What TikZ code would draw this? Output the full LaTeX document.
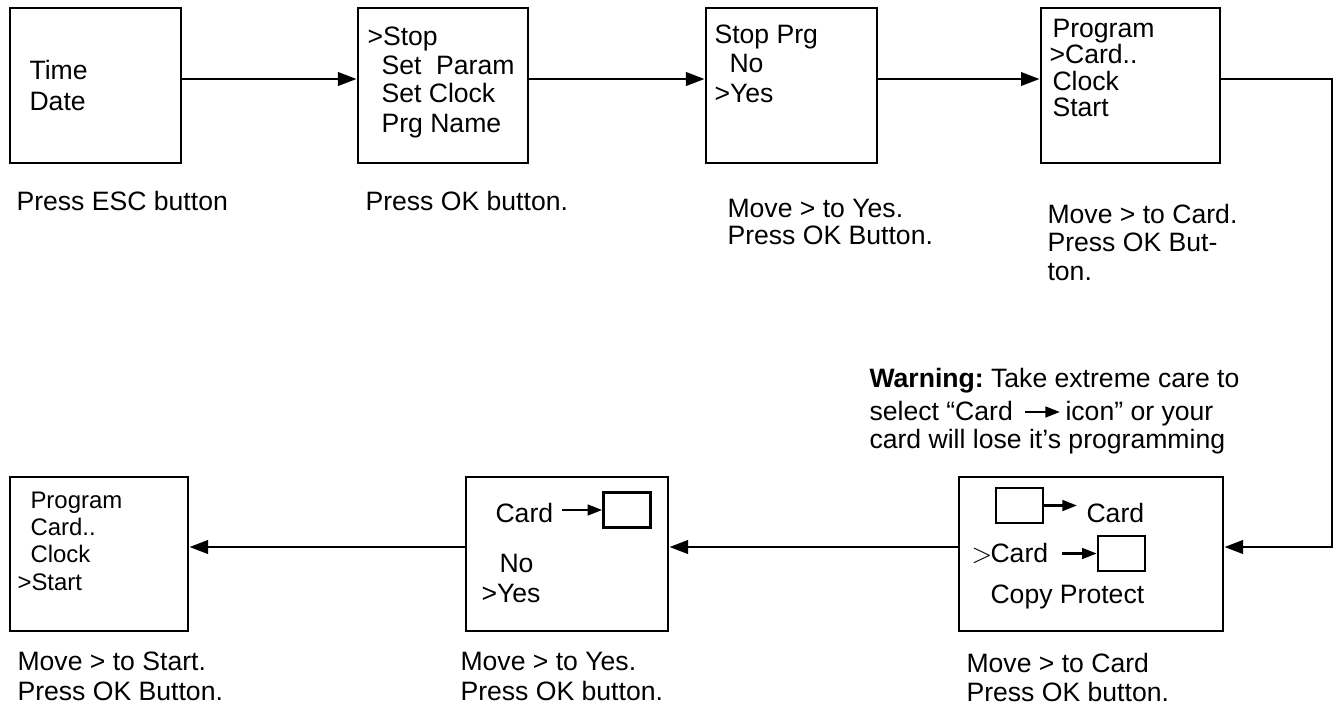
\documentclass[tikz,border=0pt]{standalone}
\usepackage{fontspec}
\setmainfont{Liberation Sans}
\usetikzlibrary{arrows.meta}
\newcommand\pxu{0.3761pt}
\frenchspacing
\begin{document}
\begin{tikzpicture}[x=0.3761pt,y=-0.3761pt,
  scr/.style={draw, line width=1.05pt, inner sep=0pt},
  mini/.style={draw, line width=0.95pt, inner sep=0pt, minimum width=47*\pxu, minimum height=35*\pxu},
  txt/.style={anchor=base west, inner sep=0pt, font=\fontsize{10}{12}\selectfont},
  stxt/.style={txt, font=\fontsize{9}{11}\selectfont},
  flow/.style={line width=1.05pt, -{Triangle[length=7pt,width=5pt]}},
  small/.style={line width=0.95pt, -{Triangle[length=5.5pt,width=4pt]}}]
\path[use as bounding box] (0,0) rectangle (1340,709);

% screens
\node[scr, minimum width=171*\pxu, minimum height=155*\pxu] (b1) at (95.5,85.5) {};
\node[scr, minimum width=170*\pxu, minimum height=155*\pxu] (b2) at (443,85.5) {};
\node[scr, minimum width=171*\pxu, minimum height=155*\pxu] (b3) at (791.5,85.5) {};
\node[scr, minimum width=179*\pxu, minimum height=155*\pxu] (b4) at (1130.5,85.5) {};
\node[scr, minimum width=264*\pxu, minimum height=154*\pxu] (b5) at (1091,554) {};
\node[scr, minimum width=202*\pxu, minimum height=154*\pxu] (b6) at (567,554) {};
\node[scr, minimum width=178*\pxu, minimum height=154*\pxu] (b7) at (99,554) {};

% screen texts
\node[txt] (t1a) at (29,79) {Time};
\node[txt] (t1b) at (29,110) {Date};

\node[txt] (t2a) at (367,45) {>Stop};
\node[txt] (t2b) at (381,74) {Set\ \ Param};
\node[txt] (t2c) at (381,102) {Set Clock};
\node[txt] (t2d) at (381,132) {Prg Name};

\node[txt] (t3a) at (714,43) {Stop Prg};
\node[txt] (t3b) at (729,72) {No};
\node[txt] (t3c) at (714,102) {>Yes};

\node[txt] (t4a) at (1052,37) {Program};
\node[txt] (t4b) at (1049,63) {>Card..};
\node[txt] (t4c) at (1052,90) {Clock};
\node[txt] (t4d) at (1052,116) {Start};

\node[stxt] (t7a) at (30,508) {Program};
\node[stxt] (t7b) at (30,535) {Card..};
\node[stxt] (t7c) at (30,562) {Clock};
\node[stxt] (t7d) at (17,590) {>Start};

\node[txt] (t6a) at (495,522) {Card};
\node[mini] (sb6) at (627,510) {};
\coordinate (a6) at (562,510);
\draw[small] (a6) -- (sb6.west);
\node[txt] (t6b) at (499,572) {No};
\node[txt] (t6c) at (481,602) {>Yes};

\node[mini] (sb5a) at (1019.5,505.5) {};
\coordinate (a5a) at (1077,505.5);
\draw[small] (sb5a.east) -- (a5a);
\node[txt] (t5a) at (1086,522) {Card};
\node[txt] (t5g) at (971,562) {\rmfamily$>$};
\node[txt] (t5b) at (990,562) {Card};
\node[mini] (sb5b) at (1121.5,553.5) {};
\coordinate (a5b) at (1062,553.5);
\draw[small] (a5b) -- (sb5b.west);
\node[txt] (t5c) at (990,603) {Copy Protect};

% flow connectors
\coordinate (ytop) at (0,79);
\coordinate (ybot) at (0,547);
\coordinate (c1) at (1332,79);
\coordinate (c2) at (1332,547);
\draw[flow] (b1.east |- ytop) -- (b2.west |- ytop);
\draw[flow] (b2.east |- ytop) -- (b3.west |- ytop);
\draw[flow] (b3.east |- ytop) -- (b4.west |- ytop);
\draw[flow, line join=miter] (b4.east |- ytop) -- (c1) -- (c2) -- (b5.east |- ybot);
\draw[flow] (b5.west |- ybot) -- (b6.east |- ybot);
\draw[flow] (b6.west |- ybot) -- (b7.east |- ybot);

% captions
\node[txt] (p1) at (16,210) {Press ESC button};
\node[txt] (p2) at (365,210) {Press OK button.};
\node[txt] (p3a) at (727,217) {Move > to Yes.};
\node[txt] (p3b) at (727,244) {Press OK Button.};
\node[txt] (p4a) at (1047,223) {Move > to Card.};
\node[txt] (p4b) at (1047,251) {Press OK But-};
\node[txt] (p4c) at (1047,280) {ton.};

\node[txt] (w1) at (869,387) {\textbf{Warning:} Take extreme care to};
\node[txt] (w2a) at (869,420) {select “Card};
\coordinate (wa1) at (1025,412);
\coordinate (wa2) at (1060,412);
\draw[small] (wa1) -- (wa2);
\node[txt] (w2b) at (1065,420) {icon” or your};
\node[txt] (w3) at (869,448) {card will lose it’s programming};

\node[txt] (p7a) at (17,670) {Move > to Start.};
\node[txt] (p7b) at (17,700) {Press OK Button.};
\node[txt] (p6a) at (460,670) {Move > to Yes.};
\node[txt] (p6b) at (460,700) {Press OK button.};
\node[txt] (p5a) at (966,672) {Move > to Card};
\node[txt] (p5b) at (966,701) {Press OK button.};
\end{tikzpicture}
\end{document}
